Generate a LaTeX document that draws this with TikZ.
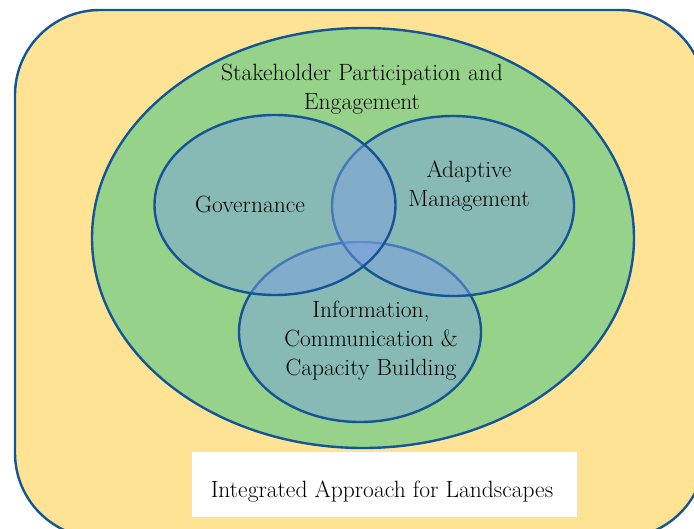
\documentclass[tikz,border=0pt]{standalone}
\usetikzlibrary{shapes.geometric}
\definecolor{frame}{RGB}{20,85,150}
\definecolor{sand}{RGB}{255,227,148}
\definecolor{leaf}{RGB}{150,210,138}
\definecolor{sky}{RGB}{122,160,228}
\begin{document}
\begin{tikzpicture}[x=1pt,y=-1pt,line join=bevel,
  ring/.style={ellipse,draw=frame,line width=2.4pt,inner sep=0pt},
  part/.style={ring,fill=sky,fill opacity=0.48,draw opacity=1},
  word/.style={draw=none,text=black,font=\fontsize{23.5}{29}\selectfont,align=center,inner sep=0pt}]
%%
  \clip (0,0) rectangle (694,528);
  \useasboundingbox (0,0) rectangle (694,528);
  \node (node_land) at (360,274) [draw=frame,line width=2.4pt,fill=sand,rounded corners=85pt,minimum width=690pt,minimum height=528pt] {};
  \node (node_sp) at (363,238) [ring,fill=leaf,minimum width=542pt,minimum height=420pt] {};
  \node (node_ic) at (360,332) [part,minimum width=242pt,minimum height=180pt] {};
  \node (node_am) at (453,206) [part,minimum width=242pt,minimum height=180pt] {};
  \node (node_gov) at (275,205) [part,minimum width=241pt,minimum height=180pt] {};

  \node (text_sp) at (362,89) [word] {Stakeholder Participation and\\Engagement};
  \node (text_gov) at (250,204) [word] {Governance};
  \node (text_am) at (469,186) [word] {Adaptive\\Management};
  \node (text_ic) at (371,341) [word] {Information,\\Communication \&\\Capacity Building};
  \node (node_box) at (384,484) [draw=none,fill=white,minimum width=385pt,minimum height=65pt] {};
  \node (text_box) at (382,492) [word] {Integrated Approach for Landscapes};
%
\end{tikzpicture}
\end{document}
